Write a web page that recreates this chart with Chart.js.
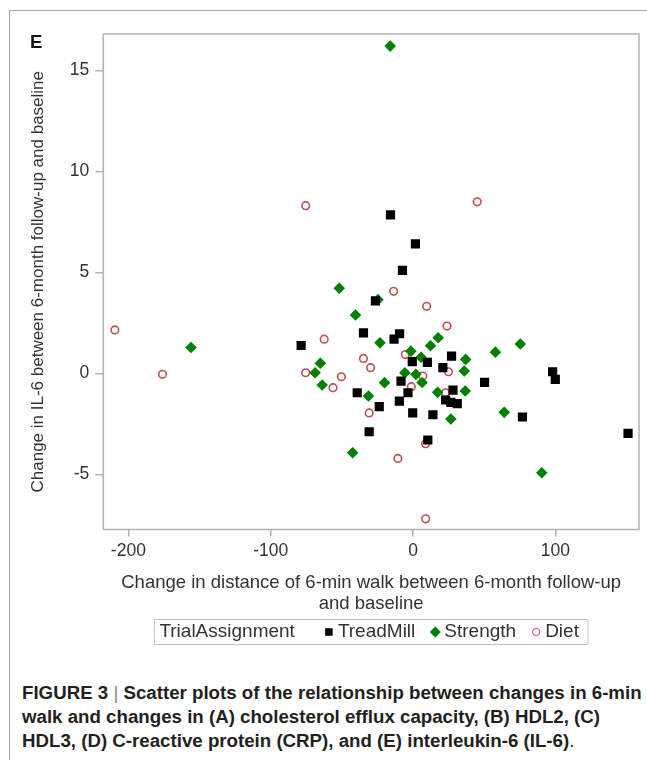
<!DOCTYPE html>
<html>
<head>
<meta charset="utf-8">
<script src="https://cdn.jsdelivr.net/npm/chart.js@4.4.0/dist/chart.umd.min.js"></script>
<style>
  body { margin: 0; background: #fff; width: 647px; height: 760px; position: relative; overflow: hidden; font-family: "Liberation Sans", Arial, sans-serif; }
  #frame { position: absolute; left: 9px; top: 10px; width: 700px; height: 800px; border-left: 1px solid #a8a8a8; border-top: 1px solid #a8a8a8; }
  #panel { position: absolute; left: 30px; top: 33px; font-weight: bold; font-size: 18.5px; line-height: 18px; color: #111; }
  #wrap { position: absolute; left: 0; top: 0; width: 647px; height: 660px; }
  #caption { position: absolute; left: 22px; top: 681px; font-weight: bold; font-size: 18.7px; line-height: 24px; color: #231f20; white-space: nowrap; }
  #caption .sep { font-weight: normal; color: #8a8a8a; }
  #caption .dot { font-weight: normal; }
</style>
</head>
<body>
<div id="frame"></div>
<div id="wrap"><canvas id="chart" width="647" height="660"></canvas></div>
<div id="panel">E</div>
<div id="caption">FIGURE 3 <span class="sep">|</span> Scatter plots of the relationship between changes in 6-min<br>walk and changes in (A) cholesterol efflux capacity, (B) HDL2, (C)<br>HDL3, (D) C-reactive protein (CRP), and (E) interleukin-6 (IL-6)<span class="dot">.</span></div>
<script>
// values
const groupNames = ['TreadMill', 'Strength', 'Diet'];

const treadMillX = [-15.8, 1.7, -7.4, -26.4, -34.8, -9.4, -13.3, -78.6, 27.1, -0.5, 10.1, 21, 98.1, 100, -8.4, 50.3, -39.2, -3.5, 28.1, -9.6, 22.9, 26.6, 31.1, -23.7, -0.2, 14, 76.9, -30.8, 151.1, 10.4];
const treadMillY = [7.85, 6.41, 5.1, 3.59, 2.0, 1.96, 1.69, 1.38, 0.85, 0.58, 0.54, 0.28, 0.08, -0.30, -0.38, -0.45, -0.96, -0.96, -0.83, -1.37, -1.32, -1.44, -1.50, -1.65, -1.96, -2.05, -2.16, -2.89, -2.97, -3.3];

const strengthX = [-16.0, -51.8, -24.6, -40.4, -23.2, 17.7, 12.3, 75.4, -156, -1.5, 57.9, 37, 5.7, -65.1, -68.8, 36, -5.7, 2, 6.4, -20, -63.8, -31.3, 17.3, 36.7, 64.1, 26.6, -42.4, 90.5];
const strengthY = [16.2, 4.21, 3.65, 2.89, 1.51, 1.76, 1.37, 1.45, 1.28, 1.1, 1.05, 0.69, 0.8, 0.50, 0.03, 0.12, 0.03, -0.05, -0.45, -0.46, -0.58, -1.12, -0.94, -0.87, -1.93, -2.26, -3.93, -4.92];

const dietX = [-75.4, 45.1, -13.6, 9.6, 23.9, -209.5, -62.4, -34.8, -5.4, -29.8, -75.4, -176, 24.9, 6.9, -50.3, -56.2, -1.2, 22.9, -30.8, 8.9, -10.6, 8.9];
const dietY = [8.3, 8.49, 4.06, 3.32, 2.34, 2.15, 1.69, 0.74, 0.93, 0.28, 0.03, -0.05, 0.08, -0.13, -0.17, -0.71, -0.66, -0.96, -1.96, -3.48, -4.21, -7.2];

const xTicks = [-200, -100, 0, 100];
const yTicks = [-5, 0, 5, 10, 15];

function pairs(xs, ys) {
    return xs.map((x, i) => ({ x: x, y: ys[i] }));
}

const axisGrey = '#aeb3b9';
const textGrey = '#333333';
const fontFamily = '"Liberation Sans", Arial, sans-serif';

// box around the plot area
const frameBox = {
    id: 'frameBox',
    beforeDatasetsDraw(chart) {
        const a = chart.chartArea;
        const ctx = chart.ctx;
        ctx.save();
        ctx.strokeStyle = axisGrey;
        ctx.lineWidth = 1.5;
        ctx.strokeRect(a.left, a.top, a.right - a.left, a.bottom - a.top);
        ctx.restore();
    }
};

// SAS style legend: title then items in one boxed row
const inlineLegend = {
    id: 'inlineLegend',
    afterDraw(chart) {
        const ctx = chart.ctx;
        const a = chart.chartArea;
        const y = 632;
        const toText = 9, toNext = 20, afterTitle = 34;
        ctx.save();
        ctx.font = '19px ' + fontFamily;
        ctx.textBaseline = 'middle';
        ctx.fillStyle = textGrey;

        const title = 'TrialAssignment';
        let w = ctx.measureText(title).width + afterTitle;
        chart.data.datasets.forEach(ds => {
            w += toText + ctx.measureText(ds.label).width + toNext;
        });
        w -= toNext;
        const boxW = w + 14;
        const boxLeft = (a.left + a.right) / 2 - boxW / 2;

        ctx.strokeStyle = '#c4c4c4';
        ctx.lineWidth = 1;
        ctx.strokeRect(boxLeft, y - 12.5, boxW, 25);

        let x = boxLeft + 5;
        ctx.fillText(title, x, y);
        x += ctx.measureText(title).width + afterTitle;
        chart.data.datasets.forEach(ds => {
            ctx.fillStyle = ds.pointBackgroundColor;
            ctx.strokeStyle = ds.pointBorderColor;
            Chart.helpers.drawPoint(ctx, {
                pointStyle: ds.pointStyle,
                radius: ds.legendRadius,
                borderWidth: ds.pointBorderWidth,
                rotation: 0
            }, x, y);
            ctx.fillStyle = textGrey;
            ctx.fillText(ds.label, x + toText, y);
            x += toText + ctx.measureText(ds.label).width + toNext;
        });
        ctx.restore();
    }
};

new Chart(document.getElementById('chart'), {
    type: 'scatter',
    data: {
        datasets: [
            {
                label: groupNames[0],
                data: pairs(treadMillX, treadMillY),
                pointStyle: 'rect',
                pointRadius: 6.5,
                legendRadius: 5.3,
                pointBackgroundColor: '#000000',
                pointBorderColor: '#000000',
                pointBorderWidth: 0
            },
            {
                label: groupNames[1],
                data: pairs(strengthX, strengthY),
                pointStyle: 'rectRot',
                pointRadius: 5.8,
                legendRadius: 5.5,
                pointBackgroundColor: '#008000',
                pointBorderColor: '#008000',
                pointBorderWidth: 0
            },
            {
                label: groupNames[2],
                data: pairs(dietX, dietY),
                pointStyle: 'circle',
                pointRadius: 3.8,
                legendRadius: 3.6,
                pointBackgroundColor: 'rgba(0,0,0,0)',
                pointBorderColor: '#c0504d',
                pointBorderWidth: 1.6
            }
        ]
    },
    options: {
        responsive: false,
        animation: false,
        devicePixelRatio: 1,
        layout: { padding: { left: 0, top: 34, right: 8, bottom: 45.5 } },
        plugins: {
            legend: { display: false },
            tooltip: { enabled: false }
        },
        scales: {
            x: {
                type: 'linear',
                min: -217.6,
                max: 158.8,
                afterBuildTicks: scale => { scale.ticks = xTicks.map(v => ({ value: v })); },
                afterFit: scale => { scale.height = 85; },
                border: { display: false },
                grid: { drawOnChartArea: false, drawTicks: true, tickLength: 7, color: axisGrey, lineWidth: 1.5 },
                ticks: { color: textGrey, font: { size: 17.5, family: fontFamily }, padding: 4, maxRotation: 0 },
                title: {
                    display: true,
                    text: ['Change in distance of 6-min walk between 6-month follow-up', 'and baseline'],
                    color: textGrey,
                    font: { size: 18.5, family: fontFamily, lineHeight: 21 / 18.5 },
                    padding: { top: 0, bottom: 0 }
                }
            },
            y: {
                type: 'linear',
                min: -7.73,
                max: 16.8,
                afterBuildTicks: scale => { scale.ticks = yTicks.map(v => ({ value: v })); },
                afterFit: scale => { scale.width = 103.3; },
                border: { display: false },
                grid: { drawOnChartArea: false, drawTicks: true, tickLength: 8, color: axisGrey, lineWidth: 1.5 },
                ticks: { color: textGrey, font: { size: 17.5, family: fontFamily }, padding: 6 },
                title: {
                    display: true,
                    text: 'Change in IL-6 between 6-month follow-up and baseline',
                    color: textGrey,
                    font: { size: 17, family: fontFamily, lineHeight: 1.2 },
                    padding: { top: 28, bottom: 0 }
                }
            }
        }
    },
    plugins: [frameBox, inlineLegend]
});
</script>
</body>
</html>
